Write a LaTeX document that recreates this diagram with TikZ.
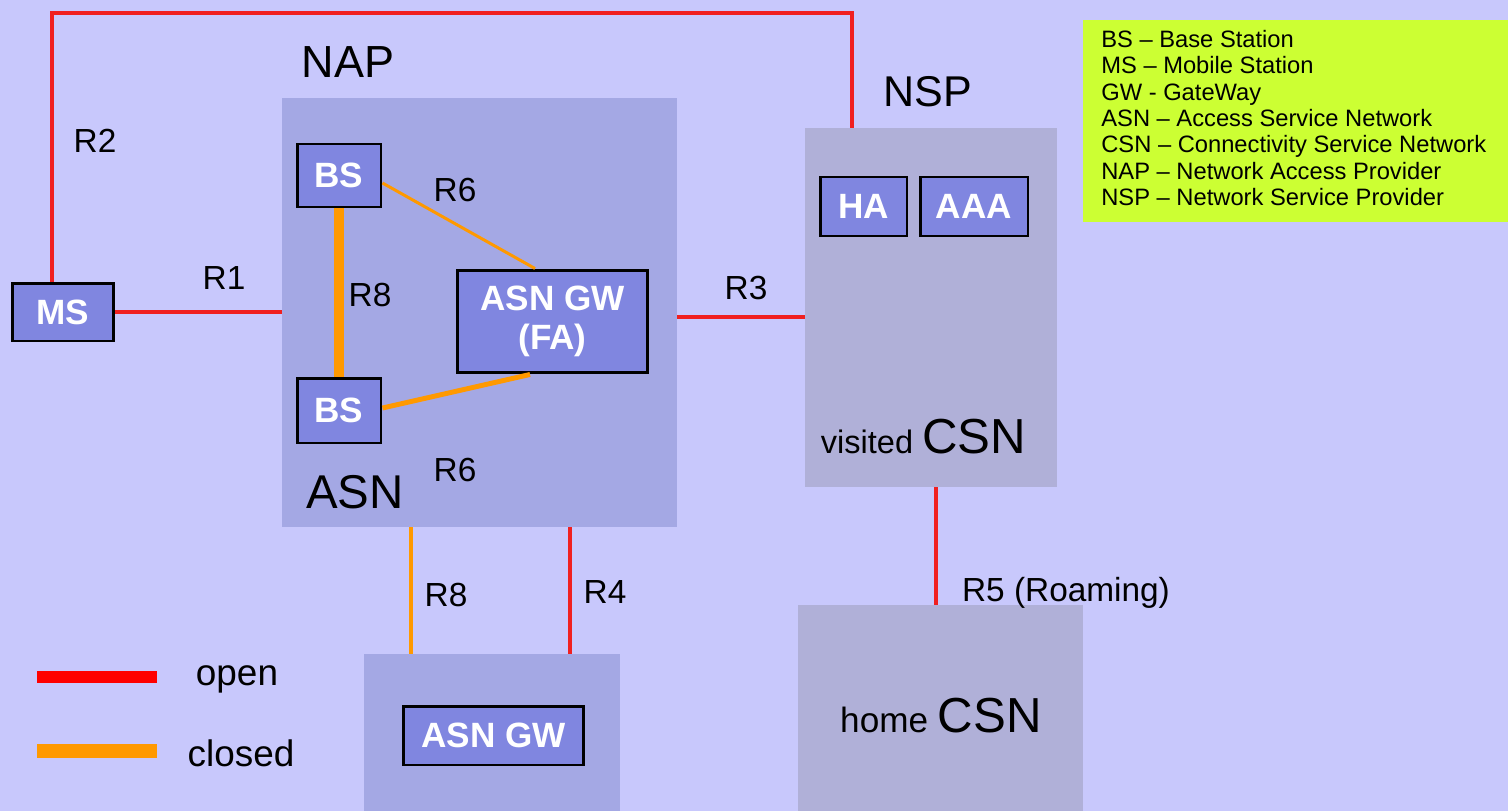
\documentclass[tikz,border=0pt]{standalone}
\usepackage{fontspec}
\setmainfont{Liberation Sans}
\definecolor{bgcol}{HTML}{C8C8FC}
\definecolor{asncol}{HTML}{A4A8E4}
\definecolor{boxcol}{HTML}{8086E0}
\definecolor{csncol}{HTML}{B0B0D8}
\definecolor{keycol}{HTML}{CCFF33}
\definecolor{opencol}{HTML}{F02020}
\definecolor{closedcol}{HTML}{FF9900}
\begin{document}
\begin{tikzpicture}[x=0.02cm, y=-0.02cm,
    region/.style={fill=#1, inner sep=0pt},
    unit/.style={draw=black, line width=1.7pt, fill=boxcol, text=white, inner sep=0pt,
      font=\fontsize{20}{22}\selectfont\bfseries, align=center},
    lbl/.style={font=\fontsize{19}{21}\selectfont},
    big/.style={font=\fontsize{25.6}{28}\selectfont},
    open/.style={draw=opencol, line width=2.8pt},
    closed/.style={draw=closedcol, line width=#1},
    closed/.default=2.2pt]
  \useasboundingbox (0,0) rectangle (1508,811);
  \fill[bgcol] (0,0) rectangle (1508,811);

  \node[region=asncol, minimum width=7.9cm, minimum height=8.58cm] (nap) at (479.5,312.5) {};
  \node[region=csncol, minimum width=5.04cm, minimum height=7.18cm] (vcsn) at (931,307.5) {};
  \node[region=csncol, minimum width=5.7cm, minimum height=4.12cm] (hcsn) at (940.5,708) {};
  \node[region=asncol, minimum width=5.12cm, minimum height=3.14cm] (gwreg) at (492,732.5) {};
  \node[region=keycol, minimum width=8.5cm, minimum height=4.04cm] (key) at (1295.5,121) {};

  \node[unit, minimum width=1.68cm, minimum height=1.26cm] (bstop) at (339,175.5) {BS};
  \node[unit, minimum width=1.68cm, minimum height=1.3cm] (bsbot) at (339,410.5) {BS};
  \node[unit, minimum width=3.82cm, minimum height=2.06cm] (gwfa) at (552.5,321.5) {ASN GW\\(FA)};
  \node[unit, minimum width=2.04cm, minimum height=1.16cm] (ms) at (63,312) {MS};
  \node[unit, minimum width=1.74cm, minimum height=1.18cm] (ha) at (863.5,206.5) {HA};
  \node[unit, minimum width=2.16cm, minimum height=1.18cm] (aaa) at (974,206.5) {AAA};
  \node[unit, minimum width=3.62cm, minimum height=1.18cm] (gw) at (493.5,735.5) {ASN GW};

  \coordinate (r2a) at (52,13);
  \coordinate (r2b) at (852,13);
  \draw[open] (ms.north -| r2a) -- (r2a) -- (r2b) -- (r2b |- vcsn.north);
  \draw[open] (ms.east) -- (ms.east -| nap.west);
  \draw[open] (nap.east |- 0,317) -- (vcsn.west |- 0,317);
  \draw[open] ([xshift=0.1cm]vcsn.south) -- ([xshift=0.1cm]vcsn.south |- hcsn.north);
  \draw[open] (gwreg.north -| 570,0) -- (nap.south -| 570,0);
  \draw[closed=2.2pt] (gwreg.north -| 411,0) -- (nap.south -| 411,0);
  \draw[closed=5.5pt] (bstop.south) -- (bsbot.north);
  \draw[closed=1.7pt] ([yshift=-0.15cm]bstop.east) -- ([xshift=-0.35cm]gwfa.north);
  \draw[closed=2.8pt] ([yshift=0.05cm]bsbot.east) -- ([xshift=-0.45cm]gwfa.south);

  \node[lbl] (r2) at (95,141) {R2};
  \node[lbl] (r1) at (224,278) {R1};
  \node[lbl] (r6a) at (455,190) {R6};
  \node[lbl] (r8a) at (370,295) {R8};
  \node[lbl] (r6b) at (455,470) {R6};
  \node[lbl] (r3) at (746,288) {R3};
  \node[lbl] (r8b) at (446,595) {R8};
  \node[lbl] (r4) at (605,592) {R4};
  \node[lbl] (r5) at (1066,593) {R5 (Roaming)};

  \node[big] (naplbl) at (348,62) {NAP};
  \node[big, font=\fontsize{24.5}{28}\selectfont] (nsplbl) at (928,92) {NSP};
  \node[big, font=\fontsize{27}{30}\selectfont] (asnlbl) at (355,492) {ASN};
  \node[anchor=base, inner sep=0pt] (vcsnlbl) at (923.5,453)
    {\fontsize{18.5}{20}\selectfont visited \fontsize{28}{30}\selectfont CSN};
  \node[anchor=base, inner sep=0pt] (hcsnlbl) at (941,732)
    {\fontsize{20}{22}\selectfont home \fontsize{28}{30}\selectfont CSN};

  \node[anchor=north west, align=left, inner sep=0pt,
    font=\fontsize{13.5}{15}\selectfont] (keytxt) at (1101,30)
    {BS -- Base Station\\MS -- Mobile Station\\GW - GateWay\\ASN -- Access Service Network\\
     CSN -- Connectivity Service Network\\NAP -- Network Access Provider\\NSP -- Network Service Provider};

  \coordinate (opena) at (37,677);
  \coordinate (openb) at (157,677);
  \coordinate (closeda) at (37,751);
  \coordinate (closedb) at (157,751);
  \draw[draw=red, line width=6.3pt] (opena) -- (openb);
  \draw[closed=8pt] (closeda) -- (closedb);
  \node[font=\fontsize{21}{23}\selectfont] (openlbl) at (237,679) {open};
  \node[font=\fontsize{21}{23}\selectfont] (closedlbl) at (241,753) {closed};
\end{tikzpicture}
\end{document}
